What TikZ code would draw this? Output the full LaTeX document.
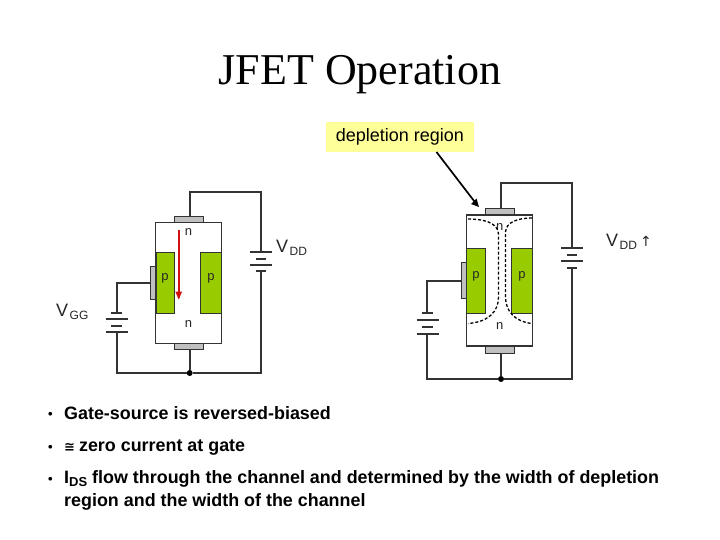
\documentclass[tikz,border=0pt]{standalone}
\usepackage{fontspec}
\setmainfont{Liberation Sans}
\newfontfamily\titlefont{Liberation Serif}
\newfontfamily\symfont{DejaVu Sans}
\definecolor{pgreen}{HTML}{99CC00}
\definecolor{contactgrey}{HTML}{C0C0C0}
\definecolor{wirecol}{HTML}{333333}
\definecolor{calloutfill}{HTML}{FFFF99}
\definecolor{curred}{HTML}{D01010}
\tikzset{
  wire/.style={draw=wirecol,line width=1.7pt},
  plate/.style={draw=wirecol,line width=1.8pt},
  body/.style={draw=wirecol,line width=1.5pt,fill=white,inner sep=0pt,outer sep=0pt},
  pblock/.style={draw=wirecol,line width=0.8pt,fill=pgreen,inner sep=0pt,outer sep=0pt},
  contact/.style={draw=wirecol,line width=1pt,fill=contactgrey,inner sep=0pt,outer sep=0pt},
  dep/.style={draw=black,line width=1.3pt,dash pattern=on 3pt off 2pt},
  tiny/.style={font=\fontsize{13}{15}\selectfont,text=black!85,inner sep=0pt},
  volt/.style={font=\fontsize{18}{22}\selectfont,text=black!85,inner sep=0pt,anchor=base west},
  bullet/.style={font=\fontsize{17.9}{21}\bfseries\selectfont,anchor=base west,inner sep=0pt,align=left},
  bulletdot/.style={font=\fontsize{13}{15}\bfseries\selectfont,anchor=base west,inner sep=0pt},
  dot/.style={circle,fill=black,inner sep=0pt,minimum size=6pt},
  sz/.style 2 args={minimum width=#1pt,minimum height=#2pt}
}
\newcommand{\subt}[1]{\hspace{1.5pt}\raisebox{-3pt}{\fontsize{12}{14}\selectfont #1}}
\begin{document}
\begin{tikzpicture}[x=1pt,y=-1pt]
\useasboundingbox (0,0) rectangle (720,540);
\fill[white] (0,0) rectangle (720,540);
\node[font=\titlefont\fontsize{44}{52}\selectfont,anchor=base,inner sep=0pt] (title) at (360,85) {JFET Operation};
\node[fill=calloutfill,minimum width=148pt,minimum height=30pt,inner sep=0pt,font=\fontsize{18}{21}\selectfont] (callout) at (400,137) {depletion region};

%% LEFT DEVICE
\node[body,sz={65.6}{121}] (lb) at (188.5,282.8) {};
\node[contact,sz={29}{5.6}] (ltc) at (188.8,219.5) {};
\node[contact,sz={29}{6}] (lbc) at (188.8,346.3) {};
\node[pblock,sz={18.3}{60.6}] (lp1) at (165.1,283) {};
\node[pblock,sz={20.6}{60.6}] (lp2) at (211,283) {};
\node[contact,sz={5.4}{33.3}] (lg) at (153,282.7) {};
\node[tiny] (ln1) at (188.5,232.5) {n};
\node[tiny] (ln2) at (188.5,324.5) {n};
\node[tiny] (lpa) at (165,278.5) {p};
\node[tiny] (lpb) at (211,278.5) {p};
\node[dot] (ldot) at (189.7,373) {};
\coordinate (ltr) at (261,192.3);
\coordinate (ltl) at (ldot |- ltr);
\coordinate (lbr) at (261,373);
\coordinate (lbl) at (116.7,373);
\coordinate (lgl) at (116.7,282.7);
\draw[wire] (ldot |- ltc.north) -- (ltl) -- (ltr) -- (261,252.3);
\draw[plate] (250,252.3) -- (272,252.3);
\draw[plate] (255.5,259) -- (266,259);
\draw[plate] (250,264.7) -- (272,264.7);
\draw[plate] (255.5,270.7) -- (266,270.7);
\draw[wire] (261,270.7) -- (lbr) -- (ldot);
\draw[wire] (ldot |- lbc.south) -- (ldot);
\draw[wire] (ldot) -- (lbl) -- (116.7,331.7);
\draw[plate] (105.7,331.7) -- (127.7,331.7);
\draw[plate] (111,325.7) -- (122,325.7);
\draw[plate] (105.7,319) -- (127.7,319);
\draw[plate] (111,313) -- (122,313);
\draw[wire] (116.7,313) -- (lgl) -- (lg.west);
\coordinate (larrA) at (178.7,230);
\coordinate (larrB) at (178.7,298);
\draw[curred,line width=2pt] (larrA) -- (larrB);
\fill[curred] (175.3,291.5) -- (182.1,291.5) -- (178.7,299.5) -- cycle;

\node[volt] (vdd1) at (276,252.5) {V\subt{DD}};
\node[volt] (vgg) at (56,316.5) {V\subt{GG}};

%% RIGHT DEVICE
\node[body,sz={66}{131}] (rb) at (499.7,280.5) {};
\node[contact,sz={29}{6.3}] (rtc) at (499.8,211.8) {};
\node[contact,sz={29}{7}] (rbc) at (499.8,349.5) {};
\node[pblock,sz={18.3}{65.3}] (rp1) at (476,280.7) {};
\node[pblock,sz={21}{65.3}] (rp2) at (522,280.7) {};
\node[contact,sz={5}{36}] (rg) at (464.2,280.7) {};
\node[tiny] (rn1) at (499.7,227) {n};
\node[tiny] (rn2) at (499.7,326) {n};
\node[tiny] (rpa) at (476,276) {p};
\node[tiny] (rpb) at (522,276) {p};
\draw[dep] (468,219) .. controls (482,219) and (498,222) .. (498.5,234) -- (498.5,297) .. controls (498.5,312) and (488,322) .. (468,323.5);
\draw[dep] (532,218) .. controls (518,218) and (506,222) .. (505.5,232) -- (505.5,297) .. controls (505.5,312) and (516,322) .. (532,323.5);
\node[dot] (rdot) at (501,379) {};
\coordinate (rtr) at (572,182.7);
\coordinate (rtl) at (rdot |- rtr);
\coordinate (rbr) at (572,379);
\coordinate (rbl) at (427.3,379);
\coordinate (rgl) at (427.3,280.7);
\draw[wire] (rdot |- rtc.north) -- (rtl) -- (rtr) -- (572,248);
\draw[plate] (561,248) -- (582.7,248);
\draw[plate] (566.5,254.7) -- (577,254.7);
\draw[plate] (561,260.7) -- (582.7,260.7);
\draw[plate] (566.5,267.7) -- (577,267.7);
\draw[wire] (572,267.7) -- (rbr) -- (rdot);
\draw[wire] (rdot |- rbc.south) -- (rdot);
\draw[wire] (rdot) -- (rbl) -- (427.3,333.7);
\draw[plate] (416.7,333.7) -- (438.7,333.7);
\draw[plate] (422,327.3) -- (433,327.3);
\draw[plate] (416.7,319.7) -- (438.7,319.7);
\draw[plate] (422,313.3) -- (433,313.3);
\draw[wire] (427.3,313.3) -- (rgl) -- (rg.west);
\node[volt] (vdd2) at (606,246.5) {V\subt{DD}\hspace{3pt}{\symfont\fontsize{14}{16}\selectfont↑}};
\coordinate (calltip) at (479,207);
\coordinate (callstart) at (436.5,152);
\draw[black,line width=1.7pt] (callstart) -- (476,203.5);
\fill[black] (calltip) -- (471,204) -- (476.5,198.5) -- cycle;

%% BULLETS
\node[bulletdot] (b1d) at (48,418.5) {•};
\node[bullet] (b1) at (64,419) {Gate-source is reversed-biased};
\node[bulletdot] (b2d) at (48,451) {•};
\node[bullet] (b2) at (64,451.5) {{\symfont\fontsize{13}{15}\bfseries\selectfont ≅}\hspace{-1pt} zero current at gate};
\node[bulletdot] (b3d) at (48,483) {•};
\node[bullet] (b3) at (64,483.5) {I\raisebox{-3pt}{\fontsize{13}{15}\selectfont DS} flow through the channel and determined by the width of depletion};
\node[bullet] (b4) at (64,506) {region and the width of the channel};
\end{tikzpicture}
\end{document}
